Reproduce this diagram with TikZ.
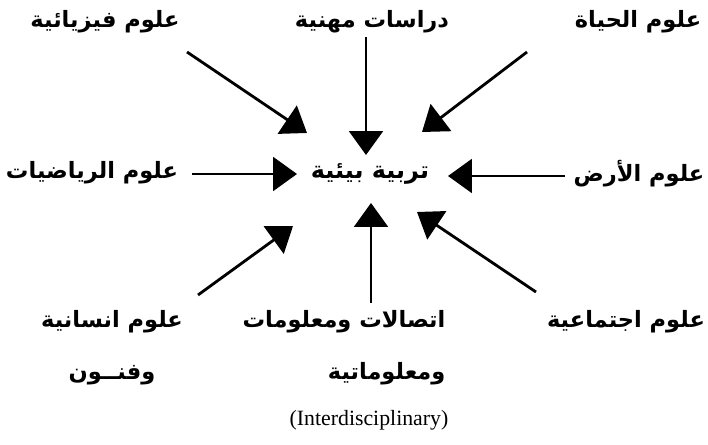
\documentclass[tikz,border=0pt]{standalone}
\usepackage{fontspec}
\usepackage{tikz}
\usetikzlibrary{arrows.meta}
\usetikzlibrary{positioning}
\newfontfamily\arabicfont[Script=Arabic]{DejaVu Sans}
\newfontfamily\capfont{Liberation Serif}
\TeXXeTstate=1

\begin{document}
\begin{tikzpicture}[x=0.025cm, y=-0.025cm,
			labelnode/.style={inner sep=1pt, font=\arabicfont\bfseries\fontsize{16}{37}\selectfont},
			centernode/.style={inner sep=1pt, font=\arabicfont\bfseries\fontsize{17}{20}\selectfont},
			captionnode/.style={inner sep=1pt, font=\capfont\fontsize{15.5}{18}\selectfont},
			arrowline/.style={-{Triangle[length=17pt, width=24pt]}, line width=2pt},
			]
			\useasboundingbox (0,0) rectangle (708,445);
			%Nodes
			\node[centernode] (EnvEdu) at (370,174) {\beginR تربية بيئية\endR};
			
			\node[labelnode] (PhysSci) at (105,22) {\beginR علوم فيزيائية\endR};
			\node[labelnode] (ProfStudy) at (372,22) {\beginR دراسات مهنية\endR};
			\node[labelnode] (LifeSci) at (638,22) {\beginR علوم الحياة\endR};
			
			\node[labelnode] (MathSci) at (92,173) {\beginR علوم الرياضيات\endR};
			\node[labelnode] (EarthSci) at (639,174) {\beginR علوم الأرض\endR};
			
			\node[labelnode, align=center] (HumArts) at (112,348) {\beginR علوم انسانية\endR\\ \beginR وفنــون\endR};
			\node[labelnode, align=right] (CommInfo) at (344,348) {\beginR اتصالات ومعلومات\endR\\ \beginR ومعلوماتية\endR};
			\node[labelnode] (SocSci) at (626,322) {\beginR علوم اجتماعية\endR};
			
			\node[captionnode] (Caption) at (369,420) {(Interdisciplinary)};
			
			%Ends
			\coordinate (PhysTail) at (187,52);
			\coordinate (PhysTip) at (307,133);
			\coordinate (ProfTail) at (366,37);
			\coordinate (ProfTip) at (366,155);
			\coordinate (LifeTail) at (527,52);
			\coordinate (LifeTip) at (422,132);
			\coordinate (MathTail) at (192,174);
			\coordinate (MathTip) at (297,174);
			\coordinate (EarthTail) at (565,176);
			\coordinate (EarthTip) at (448,176);
			\coordinate (HumTail) at (198,295);
			\coordinate (HumTip) at (293,226);
			\coordinate (CommTail) at (371,303);
			\coordinate (CommTip) at (371,203);
			\coordinate (SocTail) at (536,292);
			\coordinate (SocTip) at (417,212);
			
			%Lines
			\draw[arrowline] (PhysTail) -- (PhysTip);
			\draw[arrowline] (ProfTail) -- (ProfTip);
			\draw[arrowline] (LifeTail) -- (LifeTip);
			\draw[arrowline] (MathTail) -- (MathTip);
			\draw[arrowline] (EarthTail) -- (EarthTip);
			\draw[arrowline] (HumTail) -- (HumTip);
			\draw[arrowline] (CommTail) -- (CommTip);
			\draw[arrowline] (SocTail) -- (SocTip);
		\end{tikzpicture}
\end{document}
